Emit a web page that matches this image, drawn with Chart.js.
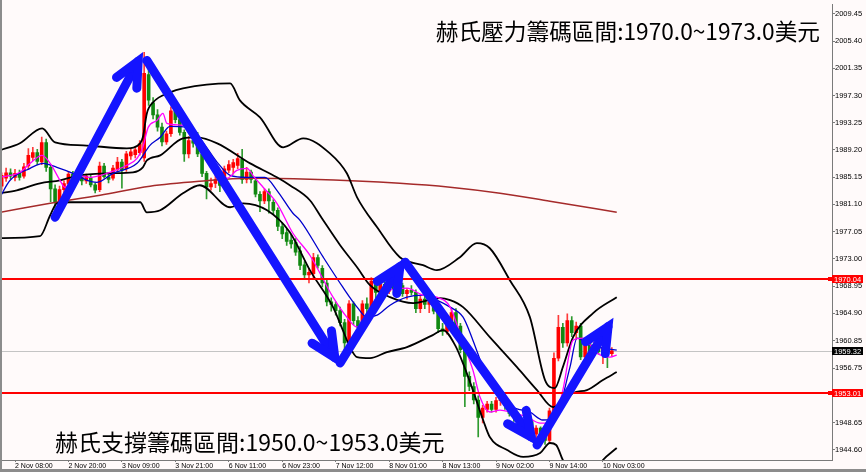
<!DOCTYPE html>
<html>
<head>
<meta charset="utf-8">
<title>XAUUSD H1</title>
<script src="https://cdn.jsdelivr.net/npm/chart.js@4.4.1/dist/chart.umd.min.js"></script>
<style>
    body { margin: 0; background: #fffafa; }
    canvas { display: block; }
</style>
</head>
<body>
<canvas id="goldChart" width="866" height="472"></canvas>
<script>
// 1h candles, first one is bar -3 (bar 0 = 2 Nov 08:00)
const firstBar = -3;
const open = [
    1983.8, 1985.0, 1985.8, 1985.1, 1985.7, 1985.3, 1986.8, 1988.1, 1988.8, 1987.4,
    1990.3, 1986.6, 1983.4, 1981.5, 1983.3, 1984.1, 1985.6, 1984.8, 1985.2, 1984.6,
    1985.1, 1984.0, 1983.3, 1986.8, 1985.2, 1985.0, 1986.3, 1987.4, 1986.4, 1988.3,
    1988.5, 1988.8, 1988.0, 2000.4, 1996.2, 1994.4, 1992.6, 1990.4, 1991.6, 1995.0,
    1993.7, 1991.8, 1988.6, 1990.6, 1990.2, 1988.6, 1985.7, 1983.7, 1984.2, 1984.8,
    1983.9, 1986.2, 1986.6, 1986.9, 1987.8, 1984.8, 1985.9, 1984.6, 1982.6, 1981.6,
    1983.0, 1981.4, 1980.2, 1977.8, 1976.9, 1975.8, 1975.4, 1974.2, 1972.1, 1970.6,
    1970.8, 1973.2, 1971.6, 1969.4, 1966.6, 1966.2, 1965.3, 1963.5, 1960.5, 1966.3,
    1963.8, 1962.8, 1966.3, 1965.6, 1969.7, 1968.0, 1969.2, 1968.2, 1969.0, 1968.4,
    1969.0, 1967.8, 1968.3, 1968.0, 1965.6, 1967.0, 1966.2, 1966.6, 1965.2, 1962.6,
    1962.2, 1963.8, 1965.0, 1963.0, 1959.5, 1955.5, 1954.0, 1952.0, 1949.4, 1950.6,
    1951.4, 1950.6, 1951.9, 1952.2, 1951.2, 1950.0, 1949.4, 1948.6, 1947.6, 1948.8,
    1946.9, 1947.8, 1946.8, 1946.0, 1950.4, 1958.2, 1962.8, 1960.5, 1963.8, 1962.0,
    1963.0, 1958.4, 1960.4, 1959.0, 1960.2, 1959.2, 1959.8, 1958.9
];
const high = [
    1985.8, 1986.5, 1986.4, 1986.3, 1986.2, 1987.2, 1989.4, 1989.6, 1989.3, 1991.1,
    1990.8, 1987.0, 1984.0, 1983.8, 1984.6, 1986.0, 1986.0, 1985.6, 1985.5, 1985.6,
    1985.4, 1984.3, 1987.4, 1987.2, 1985.8, 1986.9, 1988.1, 1987.8, 1989.0, 1989.4,
    1989.6, 1990.6, 2003.7, 2001.5, 1997.0, 1995.2, 1993.2, 1992.0, 1995.6, 1995.4,
    1994.0, 1992.2, 1991.2, 1991.6, 1991.8, 1989.0, 1986.0, 1985.0, 1985.4, 1985.4,
    1986.8, 1987.6, 1987.8, 1988.7, 1989.3, 1986.6, 1986.2, 1985.0, 1983.0, 1983.4,
    1983.4, 1981.8, 1980.6, 1978.4, 1977.4, 1976.6, 1976.0, 1974.8, 1972.6, 1971.6,
    1973.8, 1973.6, 1972.0, 1969.8, 1967.2, 1966.6, 1965.8, 1964.0, 1966.8, 1966.6,
    1964.4, 1966.8, 1967.2, 1970.2, 1970.0, 1969.6, 1969.8, 1969.4, 1969.6, 1969.4,
    1969.4, 1968.6, 1969.0, 1968.4, 1967.4, 1967.4, 1967.0, 1967.0, 1965.6, 1963.4,
    1964.2, 1965.4, 1965.6, 1963.4, 1960.0, 1956.2, 1954.6, 1952.6, 1951.2, 1951.8,
    1951.8, 1952.4, 1952.6, 1952.6, 1951.6, 1950.6, 1950.0, 1949.0, 1949.2, 1949.0,
    1948.2, 1948.0, 1947.2, 1950.8, 1959.0, 1964.6, 1963.4, 1964.8, 1964.4, 1963.6,
    1963.4, 1960.8, 1960.8, 1960.6, 1960.6, 1960.4, 1960.2, 1959.8
];
const low = [
    1983.2, 1984.5, 1984.9, 1984.6, 1984.7, 1985.0, 1986.3, 1987.6, 1987.0, 1987.0,
    1986.0, 1981.5, 1980.2, 1981.0, 1982.8, 1983.8, 1984.3, 1984.4, 1984.0, 1984.2,
    1983.7, 1982.8, 1983.0, 1985.0, 1984.3, 1984.7, 1986.0, 1983.5, 1986.0, 1987.8,
    1988.0, 1988.4, 1987.5, 1995.8, 1993.8, 1992.0, 1989.8, 1990.0, 1991.2, 1993.2,
    1991.4, 1987.5, 1988.0, 1989.6, 1988.2, 1985.2, 1981.9, 1983.2, 1983.6, 1983.0,
    1983.5, 1985.8, 1985.6, 1986.4, 1984.2, 1984.3, 1984.3, 1982.2, 1980.0, 1981.2,
    1979.8, 1979.6, 1977.2, 1976.0, 1975.0, 1974.6, 1973.5, 1971.4, 1970.0, 1969.4,
    1970.2, 1971.6, 1968.8, 1966.0, 1965.2, 1964.6, 1963.0, 1958.6, 1960.0, 1963.2,
    1962.0, 1962.4, 1964.8, 1965.2, 1967.2, 1967.4, 1967.6, 1967.8, 1968.0, 1967.8,
    1967.4, 1967.0, 1967.6, 1965.0, 1965.0, 1965.6, 1965.0, 1964.8, 1962.0, 1961.6,
    1961.8, 1963.4, 1962.6, 1959.0, 1951.0, 1953.4, 1951.4, 1946.5, 1948.6, 1950.2,
    1950.2, 1950.2, 1951.2, 1950.6, 1949.6, 1948.8, 1947.8, 1947.2, 1947.2, 1945.8,
    1946.4, 1946.2, 1945.4, 1945.6, 1950.0, 1957.8, 1959.8, 1960.0, 1961.4, 1961.0,
    1958.0, 1958.0, 1958.6, 1958.4, 1958.8, 1957.4, 1956.8, 1958.6
];
const close = [
    1985.4, 1985.8, 1985.3, 1985.7, 1985.1, 1986.7, 1988.4, 1988.8, 1987.5, 1990.3,
    1986.6, 1983.4, 1981.5, 1983.3, 1984.2, 1985.6, 1984.8, 1985.2, 1984.6, 1985.3,
    1984.0, 1983.2, 1986.8, 1985.2, 1984.8, 1986.5, 1987.4, 1986.2, 1988.6, 1988.9,
    1989.2, 1990.1, 2000.6, 1996.6, 1994.4, 1992.6, 1990.4, 1991.6, 1995.0, 1993.7,
    1991.8, 1988.6, 1990.6, 1990.2, 1988.6, 1985.7, 1983.7, 1984.2, 1984.8, 1983.9,
    1986.4, 1987.0, 1987.3, 1987.9, 1984.8, 1985.9, 1984.8, 1982.6, 1981.6, 1983.0,
    1981.6, 1980.2, 1977.8, 1976.7, 1975.6, 1975.2, 1974.0, 1972.0, 1970.6, 1971.0,
    1973.2, 1972.0, 1969.4, 1966.6, 1966.2, 1965.3, 1963.5, 1960.5, 1966.3, 1963.8,
    1962.8, 1966.3, 1965.6, 1969.7, 1968.0, 1969.2, 1968.2, 1969.0, 1968.4, 1969.0,
    1967.8, 1968.3, 1968.0, 1965.6, 1967.0, 1966.2, 1966.6, 1965.2, 1962.6, 1962.2,
    1963.8, 1965.0, 1963.0, 1959.5, 1955.5, 1954.0, 1952.0, 1949.4, 1950.8, 1951.4,
    1950.6, 1951.9, 1952.2, 1951.2, 1950.0, 1949.4, 1948.6, 1947.6, 1948.8, 1946.9,
    1947.8, 1946.8, 1946.0, 1950.4, 1958.2, 1962.8, 1960.5, 1963.8, 1962.0, 1963.0,
    1958.4, 1960.4, 1959.0, 1960.2, 1959.2, 1959.8, 1958.9, 1959.32
];

// time axis labels, one every 12 bars
const xTickBars = [0, 12, 24, 36, 48, 60, 72, 84, 96, 108, 120, 132];
const xTickLabels = ['2 Nov 08:00', '2 Nov 20:00', '3 Nov 09:00', '3 Nov 21:00', '6 Nov 11:00', '6 Nov 23:00',
    '7 Nov 12:00', '8 Nov 01:00', '8 Nov 13:00', '9 Nov 02:00', '9 Nov 14:00', '10 Nov 03:00'];
const yTickValues = [2009.45, 2005.40, 2001.35, 1997.30, 1993.25, 1989.20, 1985.15, 1981.10,
    1977.05, 1973.00, 1968.95, 1964.90, 1960.85, 1956.75, 1948.65, 1944.60];

// indicator lines (bar position, price)
const ma5Bars = [-3.4, 1.1, 3.4, 6.1, 7.9, 10.1, 11.2, 13.9, 16.8, 21.3, 25.1, 27.4, 28.7, 29.9, 31.9, 33.2, 34.1, 37.7,
    41.5, 45.4, 47.6, 49.8, 52.1, 53.4, 55.7, 58.8, 62.4, 66.2, 71.4, 74.5, 76.8, 79.0, 81.3, 84.2, 88.0, 91.6, 94.7,
    97.7, 100.6, 102.8, 104.4, 106.6, 108.9, 111.8, 115.0, 117.9, 120.8, 123.0, 125.3, 127.5, 130.7, 133.6, 135.1];
const ma5 = [1985.12, 1985.87, 1987.20, 1988.39, 1987.20, 1984.68, 1983.64, 1985.42, 1985.12, 1985.87, 1986.91, 1987.95,
    1989.58, 1992.55, 1993.59, 1994.63, 1993.15, 1992.85, 1990.62, 1986.61, 1984.98, 1986.16, 1986.46, 1985.42, 1983.64,
    1981.26, 1976.80, 1973.53, 1967.29, 1964.32, 1962.84, 1963.88, 1966.40, 1968.33, 1968.63, 1967.59, 1967.29, 1965.81,
    1960.46, 1956.45, 1952.43, 1950.21, 1950.50, 1950.06, 1949.46, 1948.57, 1948.57, 1953.47, 1960.90, 1961.20, 1958.97,
    1958.38, 1958.68];
const ma10Bars = [-3.4, -1.1, 3.4, 6.3, 9.4, 13.0, 16.2, 18.4, 22.0, 27.4, 30.3, 32.6, 34.8, 38.6, 41.5, 45.4, 48.3, 52.1,
    56.1, 58.8, 62.4, 64.0, 69.2, 73.6, 76.8, 79.0, 81.3, 84.2, 88.0, 91.6, 94.7, 97.7, 100.6, 102.8, 105.1, 108.2, 111.8,
    115.6, 118.5, 121.7, 124.6, 126.2, 129.1, 135.1];
const ma10 = [1982.15, 1984.68, 1986.46, 1987.20, 1986.61, 1985.72, 1984.68, 1984.38, 1985.72, 1987.20, 1989.88, 1991.07,
    1992.70, 1992.55, 1990.92, 1987.35, 1985.42, 1985.12, 1985.12, 1983.19, 1979.78, 1978.73, 1973.24, 1968.78, 1965.81,
    1964.32, 1964.62, 1966.10, 1967.29, 1967.59, 1966.85, 1965.81, 1964.32, 1960.90, 1956.89, 1953.47, 1950.95, 1950.21,
    1949.02, 1950.06, 1956.89, 1961.20, 1960.16, 1959.42];
const ma200Bars = [-3.4, 7.9, 19.1, 30.3, 41.5, 52.8, 66.2, 86.4, 97.7, 108.9, 120.1, 135.1];
const ma200 = [1979.92, 1981.26, 1982.45, 1983.79, 1984.53, 1984.98, 1984.83, 1984.23, 1983.64, 1982.75, 1981.56, 1979.92];
const bbUpperBars = [-3.4, 1.1, 6.1, 9.0, 15.3, 25.1, 28.1, 28.7, 29.6, 31.0, 34.8, 37.7, 48.3, 50.5, 55.0, 60.2, 64.7,
    70.7, 74.5, 76.8, 81.3, 86.4, 91.6, 94.7, 99.9, 103.7, 106.6, 111.1, 115.6, 119.0, 121.2, 123.0, 125.3, 129.8, 135.1];
const bbUpper = [1989.14, 1990.18, 1992.41, 1990.32, 1989.88, 1989.43, 1990.18, 1991.07, 1994.63, 1996.27, 1997.75,
    1998.35, 1999.09, 1996.57, 1994.04, 1989.58, 1990.92, 1988.69, 1985.72, 1982.15, 1977.69, 1973.24, 1972.05, 1971.31,
    1973.24, 1975.32, 1974.57, 1969.82, 1964.32, 1954.96, 1953.77, 1956.89, 1961.35, 1964.92, 1967.29];
const bbMiddleBars = [-3.4, 0.4, 5.6, 10.1, 14.6, 21.3, 26.5, 28.7, 29.6, 32.6, 37.7, 40.9, 45.4, 52.8, 58.8, 61.7, 66.2,
    68.9, 73.0, 76.8, 79.7, 84.2, 89.4, 95.4, 97.7, 100.6, 106.6, 112.7, 117.2, 120.8, 123.0, 125.3, 128.4, 132.0, 135.1];
const bbMiddle = [1982.75, 1983.19, 1984.23, 1984.68, 1985.42, 1985.72, 1985.87, 1986.61, 1987.65, 1988.39, 1990.92,
    1991.07, 1990.18, 1987.20, 1985.12, 1983.94, 1981.71, 1979.03, 1975.02, 1971.75, 1969.08, 1967.29, 1966.40, 1967.14,
    1966.84, 1965.81, 1961.35, 1956.89, 1953.47, 1950.95, 1951.54, 1953.03, 1953.47, 1954.96, 1956.15];
const bbLowerBars = [-3.4, 5.6, 7.9, 9.4, 12.3, 28.1, 29.6, 32.6, 37.7, 41.5, 48.3, 51.2, 56.6, 61.7, 66.2, 71.4, 73.6,
    75.2, 76.8, 79.7, 83.5, 88.0, 93.8, 96.1, 98.8, 101.0, 102.8, 105.1, 106.6, 110.5, 114.1, 117.9, 120.1, 121.5, 123.0,
    125.7, 129.1, 132.0, 135.1];
const bbLower = [1976.06, 1976.36, 1979.48, 1981.26, 1981.41, 1981.41, 1979.92, 1980.22, 1982.75, 1983.94, 1980.67,
    1981.26, 1980.22, 1976.95, 1971.31, 1965.81, 1962.39, 1959.86, 1958.38, 1958.23, 1959.12, 1959.86, 1961.65, 1962.39,
    1960.16, 1956.74, 1953.47, 1949.02, 1946.49, 1944.56, 1943.52, 1944.11, 1945.60, 1945.30, 1943.07, 1940.40, 1940.40,
    1943.07, 1944.86];

// levels, last price and the hand drawn arrows (bar position, price)
const levelLines = [1970.04, 1953.01];
const lastPrice = 1959.32;
const arrowFromBar = [9.0, 29.6, 73.0, 87.6, 117.2];
const arrowFromPrice = [1979.18, 2002.51, 1957.50, 1972.50, 1945.30];
const arrowToBar = [28.7, 73.0, 87.6, 117.2, 134.3];
const arrowToPrice = [2003.70, 1957.04, 1973.09, 1945.30, 1964.17];
const resistanceText = '赫氏壓力籌碼區間:1970.0~1973.0美元';
const supportText = '赫氏支撐籌碼區間:1950.0~1953.0美元';

const toPoints = (bars, values) => bars.map((b, k) => ({ x: b, y: values[k] }));
const isUp = open.map((o, k) => close[k] >= o); // red = up, green = down

function drawArrow(ctx, x0, y0, x1, y1) {
    const ang = Math.atan2(y1 - y0, x1 - x0);
    const spread = 0.44, head = 27, back = 10; // back: the miter tip sticks out past the joint
    const tx = x1 - back * Math.cos(ang), ty = y1 - back * Math.sin(ang);
    ctx.beginPath();
    ctx.moveTo(x0, y0);
    ctx.lineTo(tx, ty);
    ctx.stroke();
    ctx.beginPath();
    ctx.moveTo(tx - head * Math.cos(ang - spread), ty - head * Math.sin(ang - spread));
    ctx.lineTo(tx, ty);
    ctx.lineTo(tx - head * Math.cos(ang + spread), ty - head * Math.sin(ang + spread));
    ctx.stroke();
}

const overlayPlugin = {
    id: 'overlay',
    beforeDatasetsDraw(chart) {
        // bid line behind the candles
        const { ctx, chartArea: area, scales: { y } } = chart;
        const py = Math.round(y.getPixelForValue(lastPrice)) + 0.5;
        ctx.save();
        ctx.strokeStyle = '#c4c4c4';
        ctx.lineWidth = 1;
        ctx.beginPath();
        ctx.moveTo(area.left, py);
        ctx.lineTo(area.right, py);
        ctx.stroke();
        ctx.restore();
    },
    afterDatasetsDraw(chart) {
        const { ctx, chartArea: area, scales: { x, y } } = chart;
        ctx.save();
        // red levels
        ctx.strokeStyle = '#ff0000';
        ctx.fillStyle = '#ff0000';
        ctx.lineWidth = 2;
        levelLines.forEach(v => {
            const py = Math.round(y.getPixelForValue(v));
            ctx.beginPath();
            ctx.moveTo(area.left, py);
            ctx.lineTo(area.right, py);
            ctx.stroke();
            ctx.fillRect(area.right - 4, py - 2, 4, 4);
        });
        // blue arrows
        ctx.strokeStyle = '#1414ff';
        ctx.lineWidth = 9;
        ctx.lineJoin = 'miter';
        ctx.lineCap = 'round';
        arrowFromBar.forEach((b, k) => {
            drawArrow(ctx, x.getPixelForValue(b), y.getPixelForValue(arrowFromPrice[k]),
                x.getPixelForValue(arrowToBar[k]), y.getPixelForValue(arrowToPrice[k]));
        });
        // notes
        ctx.fillStyle = '#000';
        ctx.textBaseline = 'middle';
        ctx.font = '22.7px "Noto Sans CJK TC"';
        ctx.textAlign = 'right';
        ctx.fillText(resistanceText, area.right - 12, 31);
        ctx.font = '23px "Noto Sans CJK TC"';
        ctx.textAlign = 'left';
        ctx.fillText(supportText, 55, 442);
        ctx.restore();
    },
    afterDraw(chart) {
        const { ctx, chartArea: area, scales: { y }, width, height } = chart;
        ctx.save();
        ctx.font = '7.5px "Liberation Sans"';
        ctx.textBaseline = 'middle';
        ctx.textAlign = 'left';
        const tag = (v, color) => {
            const py = Math.round(y.getPixelForValue(v));
            ctx.fillStyle = color;
            ctx.fillRect(area.right, py - 4, 31, 8);
            ctx.fillStyle = '#ffffff';
            ctx.fillText(v.toFixed(2), area.right + 2, py + 0.5);
        };
        levelLines.forEach(v => tag(v, '#ff0000'));
        tag(lastPrice, '#000000');
        // window frame
        ctx.fillStyle = '#8c8c8c';
        ctx.fillRect(0, 0, 2, height);
        ctx.fillRect(0, height - 3, width, 3);
        ctx.restore();
    }
};

const ctx = document.getElementById('goldChart').getContext('2d');
const goldChart = new Chart(ctx, {
    type: 'bar',
    data: {
        datasets: [
            {
                type: 'line', label: 'MA5', data: toPoints(ma5Bars, ma5),
                borderColor: '#ff00ff', borderWidth: 1.3, pointRadius: 0, cubicInterpolationMode: 'monotone', order: 1
            },
            {
                type: 'line', label: 'MA10', data: toPoints(ma10Bars, ma10),
                borderColor: '#0000cd', borderWidth: 1.3, pointRadius: 0, cubicInterpolationMode: 'monotone', order: 2
            },
            {
                type: 'line', label: 'BB upper', data: toPoints(bbUpperBars, bbUpper),
                borderColor: '#000000', borderWidth: 1.8, pointRadius: 0, cubicInterpolationMode: 'monotone', order: 3
            },
            {
                type: 'line', label: 'BB middle', data: toPoints(bbMiddleBars, bbMiddle),
                borderColor: '#000000', borderWidth: 1.8, pointRadius: 0, cubicInterpolationMode: 'monotone', order: 3
            },
            {
                type: 'line', label: 'BB lower', data: toPoints(bbLowerBars, bbLower),
                borderColor: '#000000', borderWidth: 1.8, pointRadius: 0, cubicInterpolationMode: 'monotone', order: 3
            },
            {
                type: 'line', label: 'MA200', data: toPoints(ma200Bars, ma200),
                borderColor: '#a52a2a', borderWidth: 1.5, pointRadius: 0, cubicInterpolationMode: 'monotone', order: 4
            },
            {
                label: 'bodies',
                data: open.map((o, k) => ({ x: firstBar + k, y: [o, close[k]] })),
                backgroundColor: isUp.map(u => u ? '#ff0000' : '#118811'),
                barThickness: 3, minBarLength: 1, grouped: false, order: 10
            },
            {
                label: 'wicks',
                data: open.map((o, k) => ({ x: firstBar + k, y: [low[k], high[k]] })),
                backgroundColor: isUp.map(u => u ? '#ff3a3a' : '#2f9a2f'),
                barThickness: 1, grouped: false, order: 11
            }
        ]
    },
    options: {
        responsive: false,
        animation: false,
        events: [],
        layout: { padding: { left: 2, top: 4, right: 0, bottom: 0 } },
        plugins: {
            legend: { display: false },
            tooltip: { enabled: false }
        },
        scales: {
            x: {
                type: 'linear',
                min: -2.92,
                max: 183.43,
                offset: false,
                grid: { drawOnChartArea: false, offset: false, tickLength: 2, color: '#7a7a7a' },
                border: { color: '#7a7a7a' },
                afterBuildTicks: scale => { scale.ticks = xTickBars.map(v => ({ value: v })); },
                afterFit: scale => { scale.height = 12; },
                ticks: {
                    autoSkip: false, maxRotation: 0, align: 'start', padding: 0, color: '#000',
                    font: { family: 'Liberation Sans', size: 7 },
                    callback: v => xTickLabels[xTickBars.indexOf(v)]
                }
            },
            y: {
                position: 'right',
                min: 1943.07,
                max: 2010.83,
                beginAtZero: false,
                grid: { drawOnChartArea: false, tickLength: 3, color: '#7a7a7a' },
                border: { color: '#7a7a7a' },
                afterBuildTicks: scale => { scale.ticks = yTickValues.map(v => ({ value: v })); },
                afterFit: scale => { scale.width = 34; },
                ticks: {
                    padding: 0, color: '#000',
                    font: { family: 'Liberation Sans', size: 7.5 },
                    callback: v => v.toFixed(2)
                }
            }
        }
    },
    plugins: [overlayPlugin]
});
</script>
</body>
</html>
